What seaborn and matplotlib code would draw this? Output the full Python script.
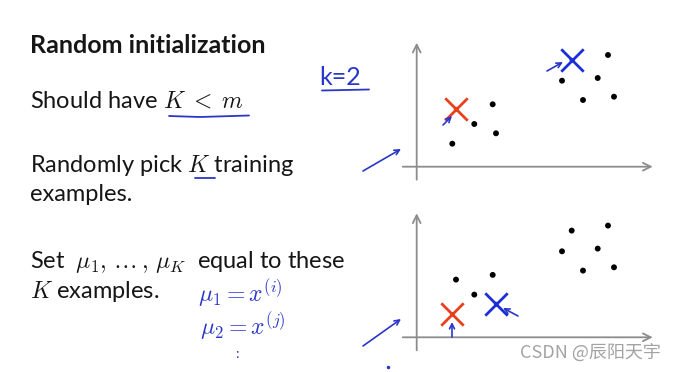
import matplotlib
matplotlib.use("Agg")
import matplotlib.pyplot as plt
import seaborn as sns
import pandas as pd

# ---------------- data ----------------
pts_x = [35.6, 57.6, 76.0, 79.3, 39.3, 145.3, 166.3, 181.0, 191.3, 197.3, 155.0]
pts_y = [23.0, 42.7, 62.4, 33.4, 57.7, 86.0, 66.7, 88.7, 111.7, 70.0, 106.7]
top_centroids = [4, 10]     # red, blue
bottom_centroids = [0, 3]   # red, blue
centroid_colors = ["#e8401c", "#1c2fd6"]

title = "Random initialization"
lines = [
    (r"Should have $K\;<\;m$", 107),
    ("Randomly pick $K$ training", 172),
    ("examples.", 201),
    (r"Set  $\mu_1,\,\ldots\,,\,\mu_K$  equal to these", 268),
    ("$K$ examples.", 298),
]
watermark = "CSDN @辰阳天宇"

# ---------------- style ----------------
sns.set_theme(style="white")
plt.rcParams["font.family"] = ["Lato", "DejaVu Sans"]
plt.rcParams["mathtext.fontset"] = "cm"

W, H = 686, 372
fig = plt.figure(figsize=(W / 100, H / 100), dpi=100)
fig.patch.set_facecolor("white")

AX_GRAY = "#8c8c8c"
HAND = "#2a36c8"


def make_panel(px_left, px_top, origin_x, origin_y, cent_idx):
    px_right, px_bottom = px_left + 270, px_top + 155
    ax = fig.add_axes([px_left / W, 1 - px_bottom / H, 270 / W, 155 / H])
    ax.set_xlim(px_left - origin_x, px_right - origin_x)
    ax.set_ylim(origin_y - px_bottom, origin_y - px_top)
    ax.axis("off")
    # axes drawn as arrows
    ax.annotate("", xy=(236, 0), xytext=(-14, 0),
                arrowprops=dict(arrowstyle="->", color=AX_GRAY, lw=1.3,
                                mutation_scale=14, shrinkA=0, shrinkB=0))
    ax.annotate("", xy=(0, 124), xytext=(0, -13),
                arrowprops=dict(arrowstyle="->", color=AX_GRAY, lw=1.3,
                                mutation_scale=14, shrinkA=0, shrinkB=0))
    df = pd.DataFrame({"x": pts_x, "y": pts_y})
    others = df.drop(index=cent_idx)
    sns.scatterplot(data=others, x="x", y="y", ax=ax, color="black",
                    s=18, edgecolor="none", legend=False)
    for i, c in zip(cent_idx, centroid_colors):
        cd = df.loc[[i]]
        sns.scatterplot(data=cd, x="x", y="y", ax=ax, color=c, marker="x",
                        s=260, linewidth=2.0, legend=False, zorder=5)
        sns.scatterplot(data=cd, x="x", y="y", ax=ax, color=c, s=10,
                        edgecolor="none", legend=False, zorder=6)
    return ax


make_panel(395, 35, 416.7, 166.7, top_centroids)
make_panel(395, 205, 416.7, 337.3, bottom_centroids)

# ---------------- overlay (text + handwriting) ----------------
ov = fig.add_axes([0, 0, 1, 1], zorder=10)
ov.set_xlim(0, W)
ov.set_ylim(H, 0)
ov.axis("off")
ov.patch.set_alpha(0)

TXT = "#161616"
ov.text(30, 53, title, fontsize=18, fontweight="bold", color=TXT, va="baseline")
for s, yb in lines:
    ov.text(30, yb, s, fontsize=17, color=TXT, va="baseline")

# handwriting: underlines
ov.plot([169, 200, 249], [116, 117, 115.5], color=HAND, lw=1.3, solid_capstyle="round")
ov.plot([195, 215], [178, 178], color=HAND, lw=1.3)
ov.text(319, 85, "k=2", fontsize=18, color=HAND, va="baseline")
ov.plot([322, 369], [90.5, 89.5], color=HAND, lw=1.3)
ov.text(198, 302, r"$\mu_1 = x^{(i)}$", fontsize=17, color=HAND, va="baseline")
ov.text(200, 335, r"$\mu_2 = x^{(j)}$", fontsize=17, color=HAND, va="baseline")
ov.text(235, 358, ":", fontsize=10, color=HAND, va="baseline")
ov.plot([388], [366.5], marker="o", ms=1.5, color=HAND)

# handwriting: arrows
arrow_kw = dict(arrowstyle="->", color=HAND, lw=1.2, mutation_scale=9,
                shrinkA=0, shrinkB=0)
for (x0, y0), (x1, y1) in [
    ((363, 171), (401, 149)),
    ((363, 346), (401, 319)),
    ((443, 125), (452, 116)),
    ((547, 71), (563, 62)),
    ((452, 337), (452, 322)),
    ((518, 316), (503, 308)),
]:
    ov.annotate("", xy=(x1, y1), xytext=(x0, y0), arrowprops=arrow_kw)

ov.text(520, 353, watermark, fontsize=13, color="#a3a3a3", va="center",
        family=["Noto Sans CJK SC", "DejaVu Sans"])

fig.savefig("out.png", dpi=100, facecolor="white")
